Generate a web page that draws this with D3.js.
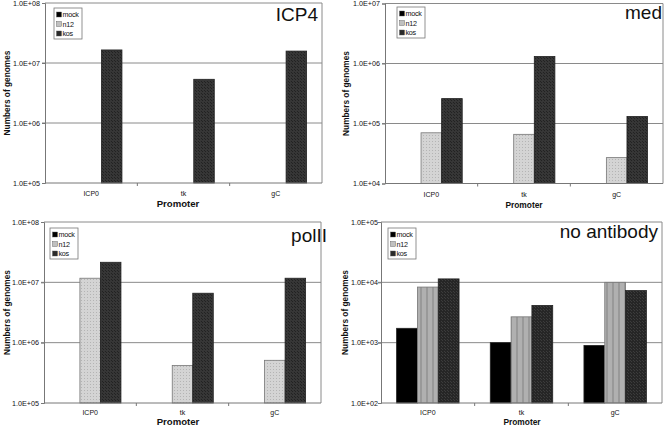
<!DOCTYPE html>
<html><head><meta charset="utf-8">
<script src="https://cdn.jsdelivr.net/npm/d3@7"></script>
<style>
html,body{margin:0;padding:0;background:#fff;}
svg{display:block;font-family:"Liberation Sans",Arial,sans-serif;}
</style></head>
<body><svg id="c" width="664" height="427"></svg>
<script>
// ---- data ----
const categories = ["ICP0", "tk", "gC"];
const seriesNames = ["mock", "n12", "kos"];
const panelTitles = ["ICP4", "med", "polII", "no antibody"];
const yDomains = [[1e5, 1e8], [1e4, 1e7], [1e5, 1e8], [1e2, 1e5]];

const icp4Mock = [null, null, null];
const icp4N12  = [null, null, null];
const icp4Kos  = [1.65e7, 5.35e6, 1.58e7];

const medMock = [null, null, null];
const medN12  = [7.0e4, 6.6e4, 2.7e4];
const medKos  = [2.6e5, 1.31e6, 1.31e5];

const polMock = [null, null, null];
const polN12  = [1.17e7, 4.2e5, 5.1e5];
const polKos  = [2.15e7, 6.6e6, 1.17e7];

const noabMock = [1.73e3, 1.0e3, 9.0e2];
const noabN12  = [8.35e3, 2.68e3, 1.0e4];
const noabKos  = [1.14e4, 4.14e3, 7.3e3];

const panelSeries = [
  [icp4Mock, icp4N12, icp4Kos],
  [medMock, medN12, medKos],
  [polMock, polN12, polKos],
  [noabMock, noabN12, noabKos]
];

// ---- layout ----
const layout = [
  {l: 45, r: 322, t: 3, b: 183, titleX: 318, titleY: 21, legX: 54, legY: 8, ylabX: 7, promX: 178, promDy: 24, catDy: 13, promFs: 9.6, tickR: 40},
  {l: 385, r: 663, t: 3.5, b: 183.5, titleX: 662, titleY: 19, legX: 397, legY: 7, ylabX: 346, promX: 524, promDy: 24, catDy: 13, promFs: 8.4, tickR: 380},
  {l: 44, r: 321, t: 222, b: 403, titleX: 327, titleY: 242, legX: 50, legY: 228, ylabX: 7, promX: 178, promDy: 21.5, catDy: 12, promFs: 9.6, tickR: 39},
  {l: 381, r: 662, t: 222, b: 403, titleX: 658, titleY: 238, legX: 388, legY: 228, ylabX: 345, promX: 522, promDy: 21.5, catDy: 12, promFs: 8.4, tickR: 378}
];

const svg = d3.select("#c");
const defs = svg.append("defs");

function mkPattern(id, bg, fg, kind) {
  const p = defs.append("pattern").attr("id", id).attr("patternUnits", "userSpaceOnUse")
    .attr("width", kind === "stripe" ? 6 : 3).attr("height", 3);
  p.append("rect").attr("width", 6).attr("height", 3).attr("fill", bg);
  if (kind === "dots") {
    p.append("rect").attr("x", 0).attr("y", 0).attr("width", 1).attr("height", 1).attr("fill", fg);
  } else if (kind === "grid") {
    p.append("rect").attr("x", 0).attr("y", 0).attr("width", 1).attr("height", 1).attr("fill", fg);
    p.append("rect").attr("x", 1).attr("y", 1).attr("width", 1).attr("height", 1).attr("fill", fg);
  } else if (kind === "stripe") {
    p.append("rect").attr("x", 0).attr("y", 0).attr("width", 2).attr("height", 3).attr("fill", fg);
  }
}
mkPattern("n12a", "#d4d4d4", "#b4b4b4", "dots");
mkPattern("kosa", "#363636", "#222", "grid");
mkPattern("n12b", "#b0b0b0", "#999", "stripe");
mkPattern("kosb", "#262626", "#3c3c3c", "grid");

const fills = [
  ["#000", "url(#n12a)", "url(#kosa)"],
  ["#000", "url(#n12a)", "url(#kosa)"],
  ["#000", "url(#n12a)", "url(#kosa)"],
  ["#000", "url(#n12b)", "url(#kosb)"]
];
const legendFills = ["#000", "#c0c0c0", "#2a2a2a"];

const fmt = v => "1.0E+" + String(Math.round(Math.log10(v))).padStart(2, "0");

layout.forEach((L, pi) => {
  const g = svg.append("g");
  const x = d3.scaleBand().domain(categories).range([L.l, L.r]).paddingInner(0).paddingOuter(0);
  const xs = d3.scaleBand().domain(seriesNames).range([0, x.bandwidth()]).paddingInner(0).paddingOuter(0.75);
  const y = d3.scaleLog().domain(yDomains[pi]).range([L.b, L.t]);
  const ticks = y.ticks().filter(v => Math.abs(Math.log10(v) - Math.round(Math.log10(v))) < 1e-9);

  // gridlines
  g.append("g").selectAll("line").data(ticks.slice(1, -1)).join("line")
    .attr("x1", L.l - 3).attr("x2", L.r).attr("y1", d => y(d)).attr("y2", d => y(d))
    .attr("stroke", "#8a8a8a").attr("stroke-width", 1);

  // plot border (top/right)
  g.append("path").attr("d", `M${L.l},${y(yDomains[pi][1])}H${L.r}V${L.b}`)
    .attr("fill", "none").attr("stroke", "#8a8a8a");

  // bars
  seriesNames.forEach((s, si) => {
    const vals = panelSeries[pi][si];
    g.append("g").selectAll("rect").data(categories.map((c, ci) => ({c, v: vals[ci]})).filter(d => d.v != null))
      .join("rect")
      .attr("x", d => x(d.c) + xs(s))
      .attr("width", xs.bandwidth())
      .attr("y", d => y(d.v))
      .attr("height", d => L.b - y(d.v))
      .attr("fill", fills[pi][si])
      .attr("stroke", si === 1 ? "#777" : "#222").attr("stroke-width", 0.8);
  });

  // y axis
  const ya = d3.axisLeft(y).tickValues(ticks).tickFormat(fmt).tickSize(3).tickPadding(L.l - L.tickR - 3);
  const yg = g.append("g").attr("transform", `translate(${L.l},0)`).call(ya);
  yg.select(".domain").attr("stroke", "#777");
  yg.selectAll(".tick line").attr("stroke", "#777");
  yg.selectAll("text").attr("font-size", 7.2).attr("fill", "#111").attr("font-family", "Liberation Sans, Arial, sans-serif");

  // x axis
  g.append("line").attr("x1", L.l).attr("x2", L.r).attr("y1", L.b).attr("y2", L.b).attr("stroke", "#777");
  g.append("g").selectAll("line").data(categories.slice(1)).join("line")
    .attr("x1", d => x(d)).attr("x2", d => x(d)).attr("y1", L.b).attr("y2", L.b + 3).attr("stroke", "#777");
  g.append("g").selectAll("text").data(categories).join("text")
    .attr("x", d => x(d) + x.bandwidth() / 2).attr("y", L.b + L.catDy)
    .attr("text-anchor", "middle").attr("font-size", 7).attr("fill", "#111").text(d => d);

  // axis titles
  g.append("text").attr("x", L.promX).attr("y", L.b + L.promDy).attr("text-anchor", "middle")
    .attr("font-size", L.promFs).attr("font-weight", "bold").attr("fill", "#111").text("Promoter");
  g.append("text").attr("transform", `translate(${L.ylabX + 3},${(L.t + L.b) / 2}) rotate(-90)`)
    .attr("text-anchor", "middle").attr("font-size", 8.3).attr("font-weight", "bold").attr("fill", "#111")
    .text("Numbers of genomes");

  // panel title
  g.append("text").attr("x", L.titleX).attr("y", L.titleY).attr("text-anchor", "end")
    .attr("font-size", 19).attr("fill", "#111").text(panelTitles[pi]);

  // legend
  const lg = g.append("g").attr("transform", `translate(${L.legX},${L.legY})`);
  lg.append("rect").attr("width", 28).attr("height", 31).attr("fill", "#fff").attr("stroke", "#777").attr("stroke-width", 0.8);
  seriesNames.forEach((s, si) => {
    lg.append("rect").attr("x", 2.5).attr("y", 4 + si * 9.5).attr("width", 5).attr("height", 5)
      .attr("fill", legendFills[si]).attr("stroke", "#555").attr("stroke-width", 0.4);
    lg.append("text").attr("x", 8.5).attr("y", 9 + si * 9.5).attr("font-size", 7.2).attr("fill", "#111")
      .attr("letter-spacing", -0.3).text(s);
  });
});
</script></body></html>
